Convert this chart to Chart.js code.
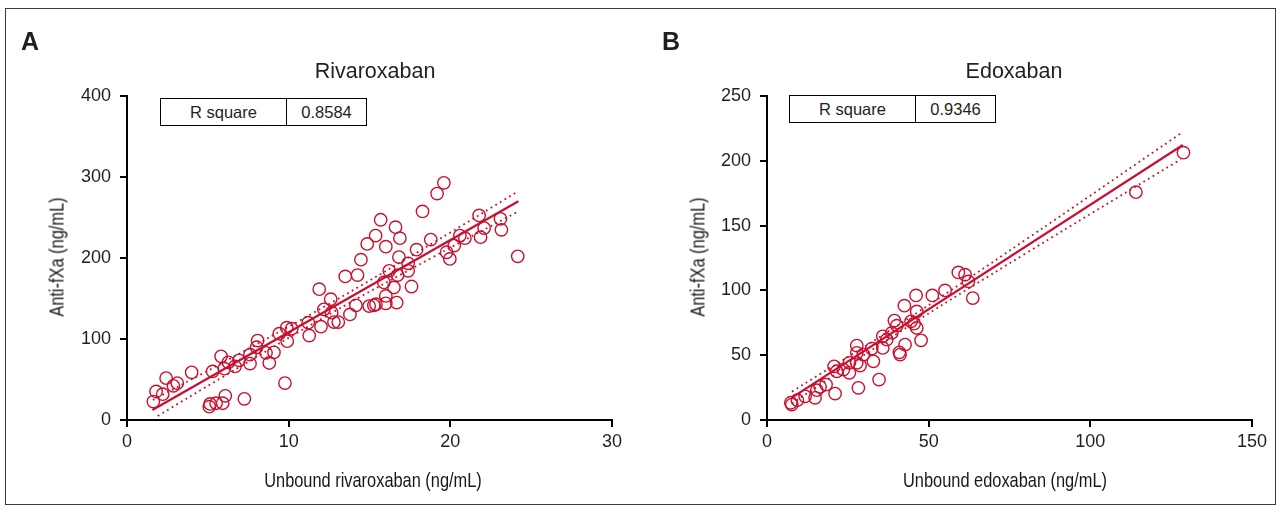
<!DOCTYPE html>
<html>
<head>
<meta charset="utf-8">
<script src="https://cdn.jsdelivr.net/npm/chart.js@4.4.1/dist/chart.umd.min.js"></script>
<style>
  html, body { margin: 0; padding: 0; background: #fff; }
  #wrap { position: relative; width: 1280px; height: 507px; overflow: hidden;
          font-family: "Liberation Sans", Arial, sans-serif; color: #231f20; }
  .frame { position: absolute; left: 5px; top: 8px; width: 1271px; height: 497px;
           border: 1.5px solid #3a3a3a; box-sizing: border-box; }
  .panel { position: absolute; top: 0; width: 640px; height: 507px; }
  .letter { position: absolute; top: 27px; font-weight: bold; font-size: 25px; }
  .ttl { position: absolute; top: 58px; font-size: 21.5px; line-height: 26px;
         transform: translateX(-50%); white-space: nowrap; }
  .rbox { position: absolute; display: flex; height: 28px; border: 1.5px solid #000;
          box-sizing: border-box; font-size: 16.5px; background: #fff; }
  .rbox div { display: flex; align-items: center; justify-content: center; }
  .rbox div + div { border-left: 1.5px solid #000; }
  .axt { position: absolute; font-size: 21px; line-height: 1; white-space: nowrap; color: #1a1718; }
  .axt.h { transform: translate(-50%, -50%) scaleX(0.78); }
  .axt.v { transform: translate(-50%, -50%) rotate(-90deg) scaleX(0.78); }
</style>
</head>
<body>
<div id="wrap">
  <div class="frame"></div>
  <canvas id="chartA" class="panel" width="640" height="507" style="left:0"></canvas>
  <canvas id="chartB" class="panel" width="640" height="507" style="left:640px"></canvas>

  <div class="letter" style="left:21px">A</div>
  <div class="letter" style="left:662px">B</div>
  <div class="ttl" style="left:375px">Rivaroxaban</div>
  <div class="ttl" style="left:1014px">Edoxaban</div>
  <div class="rbox" style="left:160px; top:98px; width:207px">
    <div style="width:125px">R square</div><div style="flex:1">0.8584</div>
  </div>
  <div class="rbox" style="left:789px; top:95px; width:207px">
    <div style="width:125px">R square</div><div style="flex:1">0.9346</div>
  </div>

  <div class="axt h" style="left:373px; top:479px">Unbound rivaroxaban (ng/mL)</div>
  <div class="axt h" style="left:1005px; top:479px">Unbound edoxaban (ng/mL)</div>
  <div class="axt v" style="left:56px; top:257px">Anti-fXa (ng/mL)</div>
  <div class="axt v" style="left:697px; top:257px">Anti-fXa (ng/mL)</div>
</div>

<script>
// ---- Panel A : rivaroxaban ----
const rivaX = [
  1.63, 1.80, 2.21, 2.42, 2.87, 3.11, 4.00, 5.09, 5.14, 5.51,
  5.92, 6.08, 5.30, 5.82, 6.02, 6.27, 6.68, 6.93, 7.26, 7.61,
  7.61, 8.02, 8.08, 8.60, 8.80, 9.09, 9.77, 9.42, 9.88, 9.91,
  10.19, 11.21, 11.27, 11.89, 12.00, 12.18, 12.60, 12.66, 12.80, 13.07,
  13.50, 13.79, 14.16, 14.26, 14.47, 14.86, 19.60, 19.18, 18.28, 15.69,
  16.61, 15.38, 16.88, 16.01, 18.79, 17.91, 16.82, 17.39, 16.22, 16.74,
  17.39, 15.89, 16.51, 17.60, 16.01, 14.98, 15.27, 15.40, 16.01, 16.68,
  19.77, 19.97, 20.24, 20.59, 20.90, 21.78, 22.09, 21.87, 23.10, 23.16,
  24.17
];
const rivaY = [
  22.7, 35.2, 31.9, 51.8, 42.2, 45.6, 58.8, 16.5, 19.9, 20.7,
  20.7, 29.8, 60.0, 78.6, 63.4, 71.2, 66.2, 73.7, 26.1, 80.7,
  69.6, 89.8, 98.1, 82.9, 70.4, 83.6, 45.6, 106.5, 113.9, 97.3,
  112.7, 120.1, 104.3, 161.5, 115.2, 136.6, 149.1, 132.5, 120.9, 120.9,
  177.3, 130.4, 141.6, 178.9, 197.9, 217.4, 292.8, 279.5, 257.5, 247.2,
  238.1, 227.7, 224.5, 214.0, 222.7, 210.3, 201.2, 193.4, 184.2, 178.9,
  184.2, 169.8, 163.6, 164.8, 153.2, 140.7, 141.6, 142.9, 144.1, 145.0,
  207.1, 198.8, 215.3, 227.7, 224.5, 252.5, 236.9, 225.7, 248.4, 234.8,
  202.1
];
const rivaFitX = [1.57, 24.21];
const rivaFitY = [12.4, 270];
const rivaUpperX = [1.6, 6, 12.5, 19, 24.2];
const rivaUpperY = [24.6, 71.6, 143.3, 219.5, 282.4];
const rivaLowerX = [1.9, 6, 12.5, 19, 24.2];
const rivaLowerY = [5, 54, 130.3, 201.9, 257.4];
const rivaXTicks = [0, 10, 20, 30];
const rivaYTicks = [0, 100, 200, 300, 400];

// ---- Panel B : edoxaban ----
const edoxX = [
  7.67, 7.36, 9.40, 11.78, 14.87, 15.40, 16.42, 18.27, 21.06, 20.75,
  21.58, 23.62, 25.48, 25.48, 27.77, 27.77, 27.77, 28.79, 28.26, 29.81,
  32.41, 32.90, 34.66, 35.81, 35.81, 37.04, 38.59, 39.39, 40.14, 40.94,
  41.16, 42.70, 42.49, 44.56, 45.49, 46.32, 46.32, 46.10, 47.65, 51.14,
  55.07, 59.18, 61.26, 62.28, 63.64, 114.1, 128.8
];
const edoxY = [
  11.9, 13.3, 15.3, 18.3, 17.1, 23.0, 25.6, 27.3, 20.4, 41.4,
  37.6, 38.9, 36.4, 44.1, 57.4, 51.8, 44.1, 42.0, 24.8, 50.5,
  55.1, 45.3, 31.2, 64.6, 55.6, 62.0, 67.2, 76.7, 72.8, 52.2,
  50.5, 58.2, 88.2, 76.1, 74.3, 71.0, 83.8, 96.1, 61.5, 96.1,
  100.0, 113.9, 112.1, 106.9, 94.1, 175.8, 206.3
];
const edoxFitX = [7.7, 128.6];
const edoxFitY = [17.3, 212.2];
const edoxUpperX = [7.7, 40, 80, 128];
const edoxUpperY = [21.9, 72.3, 139.1, 221.2];
const edoxLowerX = [7.7, 40, 80, 128];
const edoxLowerY = [12.7, 66.3, 128.5, 201.2];
const edoxXTicks = [0, 50, 100, 150];
const edoxYTicks = [0, 50, 100, 150, 200, 250];

const RED = '#c8102e';
const INK = '#231f20';
const zip = (xs, ys) => xs.map((x, i) => ({ x, y: ys[i] }));

// axis: fixed box size so the plot area lands where the original's does
function axis(ticks, horizontal) {
  return {
    type: 'linear',
    min: ticks[0],
    max: ticks[ticks.length - 1],
    afterFit: s => { if (horizontal) s.height = 87; else s.width = 127; },
    afterBuildTicks: s => { s.ticks = ticks.map(v => ({ value: v })); },
    ticks: {
      color: INK,
      padding: horizontal ? 4 : 9,
      font: { family: 'Liberation Sans', size: 18 }
    },
    grid: {
      drawOnChartArea: false,
      drawTicks: true,
      tickLength: 7,
      color: '#000',
      lineWidth: 2
    },
    border: { display: true, color: '#000', width: 2 },
    title: { display: false }
  };
}

function makePanel(id, pts, fit, upper, lower, xTicks, yTicks) {
  const dotted = {
    showLine: true, pointRadius: 0, borderColor: RED, borderWidth: 1.8,
    borderDash: [1.8, 3.6], tension: 0.4, fill: false
  };
  new Chart(document.getElementById(id), {
    type: 'scatter',
    data: {
      datasets: [
        { data: pts, pointStyle: 'circle', pointRadius: 6.2, borderWidth: 1.4,
          borderColor: RED, backgroundColor: 'rgba(0,0,0,0)' },
        { data: fit, showLine: true, pointRadius: 0, borderColor: RED, borderWidth: 2.2 },
        Object.assign({ data: upper }, dotted),
        Object.assign({ data: lower }, dotted)
      ]
    },
    options: {
      responsive: false,
      animation: false,
      devicePixelRatio: 1,
      layout: { padding: { left: 0, right: 28, top: 96, bottom: 0 } },
      plugins: { legend: { display: false }, tooltip: { enabled: false } },
      scales: { x: axis(xTicks, true), y: axis(yTicks, false) }
    }
  });
}

makePanel('chartA', zip(rivaX, rivaY), zip(rivaFitX, rivaFitY),
  zip(rivaUpperX, rivaUpperY), zip(rivaLowerX, rivaLowerY), rivaXTicks, rivaYTicks);
makePanel('chartB', zip(edoxX, edoxY), zip(edoxFitX, edoxFitY),
  zip(edoxUpperX, edoxUpperY), zip(edoxLowerX, edoxLowerY), edoxXTicks, edoxYTicks);
</script>
</body>
</html>
